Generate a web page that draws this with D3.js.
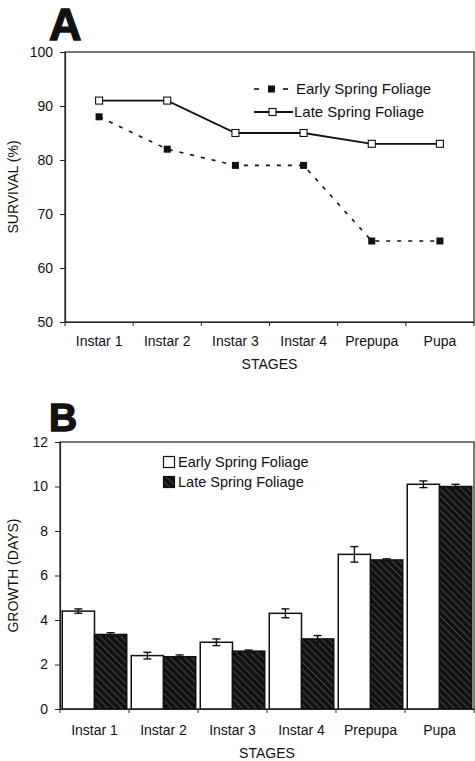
<!DOCTYPE html>
<html>
<head>
<meta charset="utf-8">
<script src="https://cdn.jsdelivr.net/npm/d3@7"></script>
<style>
  body { margin: 0; background: #fff; }
  text { font-family: "Liberation Sans", Arial, sans-serif; fill: #111; }
</style>
</head>
<body>
<script>
// data
const stages = ["Instar 1", "Instar 2", "Instar 3", "Instar 4", "Prepupa", "Pupa"];
const seriesNames = ["Early Spring Foliage", "Late Spring Foliage"];

// panel A: survival (%)
const survivalEarly = [88, 82, 79, 79, 65, 65];
const survivalLate = [91, 91, 85, 85, 83, 83];
const survivalTicks = [50, 60, 70, 80, 90, 100];

// panel B: growth (days) with error
const growthEarly = [4.4, 2.4, 3.0, 4.3, 6.95, 10.1];
const growthEarlyErr = [0.1, 0.15, 0.15, 0.2, 0.35, 0.15];
const growthLate = [3.35, 2.35, 2.6, 3.15, 6.7, 10.0];
const growthLateErr = [0.08, 0.08, 0.05, 0.15, 0.05, 0.1];
const growthTicks = [0, 2, 4, 6, 8, 10, 12];

const W = 475, H = 761;
const svg = d3.select("body").append("svg")
  .attr("width", W).attr("height", H);

// hatch for late foliage bars
const defs = svg.append("defs");
const hatch = defs.append("pattern")
  .attr("id", "hatch")
  .attr("patternUnits", "userSpaceOnUse")
  .attr("width", 5).attr("height", 5)
  .attr("patternTransform", "rotate(-45)");
hatch.append("rect").attr("width", 5).attr("height", 5).attr("fill", "#111");
hatch.append("line").attr("x1", 0).attr("y1", 0).attr("x2", 0).attr("y2", 5)
  .attr("stroke", "#a0a0a0").attr("stroke-width", 0.75);

// ---------- Panel A ----------
const a = { left: 65, right: 474, top: 52, bottom: 322 };

svg.append("text")
  .attr("x", 49).attr("y", 40)
  .attr("font-size", 45).attr("font-weight", "bold")
  .style("stroke", "#111").style("stroke-width", 1.4)
  .text("A");

const xA = d3.scaleBand().domain(stages).range([a.left, a.right]);
const yA = d3.scaleLinear().domain([50, 100]).range([a.bottom, a.top]);

// frame
svg.append("rect")
  .attr("x", a.left).attr("y", a.top)
  .attr("width", a.right - a.left).attr("height", a.bottom - a.top)
  .attr("fill", "none").attr("stroke", "#222").attr("stroke-width", 1.2);

const yAxisA = svg.append("g")
  .attr("transform", `translate(${a.left},0)`)
  .call(d3.axisLeft(yA).tickValues(survivalTicks).tickSize(5).tickPadding(7));

const xAxisA = svg.append("g")
  .attr("transform", `translate(0,${a.bottom})`)
  .call(d3.axisBottom(xA).tickSize(0).tickPadding(14));

// band boundary ticks
svg.append("g").selectAll("line")
  .data(stages.concat(["end"]))
  .join("line")
  .attr("x1", (d, i) => a.left + i * xA.bandwidth())
  .attr("x2", (d, i) => a.left + i * xA.bandwidth())
  .attr("y1", a.bottom).attr("y2", a.bottom + 4)
  .attr("stroke", "#222");

[yAxisA, xAxisA].forEach(g => {
  g.select(".domain").attr("stroke", "#222").attr("stroke-width", 1.2);
  g.selectAll(".tick line").attr("stroke", "#222");
  g.selectAll("text").attr("font-size", 14).attr("fill", "#111")
    .style("font-family", "'Liberation Sans', Arial, sans-serif");
});

svg.append("text")
  .attr("transform", `translate(18,${(a.top + a.bottom) / 2}) rotate(-90)`)
  .attr("text-anchor", "middle").attr("font-size", 14)
  .text("SURVIVAL (%)");

svg.append("text")
  .attr("x", (a.left + a.right) / 2).attr("y", 369)
  .attr("text-anchor", "middle").attr("font-size", 14)
  .text("STAGES");

const cx = d => xA(d) + xA.bandwidth() / 2;
const lineA = d3.line().x(d => cx(d.s)).y(d => yA(d.v));
const earlyPts = stages.map((s, i) => ({ s, v: survivalEarly[i] }));
const latePts = stages.map((s, i) => ({ s, v: survivalLate[i] }));

svg.append("path").datum(earlyPts)
  .attr("d", lineA).attr("fill", "none")
  .attr("stroke", "#111").attr("stroke-width", 1.6)
  .attr("stroke-dasharray", "4,7");

svg.append("path").datum(latePts)
  .attr("d", lineA).attr("fill", "none")
  .attr("stroke", "#111").attr("stroke-width", 1.8);

svg.append("g").selectAll("rect")
  .data(earlyPts).join("rect")
  .attr("x", d => cx(d.s) - 3.5).attr("y", d => yA(d.v) - 3.5)
  .attr("width", 7).attr("height", 7).attr("fill", "#111");

svg.append("g").selectAll("rect")
  .data(latePts).join("rect")
  .attr("x", d => cx(d.s) - 3.5).attr("y", d => yA(d.v) - 3.5)
  .attr("width", 7).attr("height", 7)
  .attr("fill", "#fff").attr("stroke", "#111").attr("stroke-width", 1.1);

// legend A
const legA = svg.append("g");
legA.append("line").attr("x1", 254).attr("x2", 259).attr("y1", 89).attr("y2", 89)
  .attr("stroke", "#111").attr("stroke-width", 1.6);
legA.append("rect").attr("x", 268).attr("y", 85.5).attr("width", 7).attr("height", 7).attr("fill", "#111");
legA.append("line").attr("x1", 283).attr("x2", 288).attr("y1", 89).attr("y2", 89)
  .attr("stroke", "#111").attr("stroke-width", 1.6);
legA.append("text").attr("x", 296).attr("y", 94).attr("font-size", 15).text(seriesNames[0]);

legA.append("line").attr("x1", 254).attr("x2", 293).attr("y1", 112).attr("y2", 112)
  .attr("stroke", "#111").attr("stroke-width", 1.8);
legA.append("rect").attr("x", 269).attr("y", 108.5).attr("width", 7).attr("height", 7)
  .attr("fill", "#fff").attr("stroke", "#111").attr("stroke-width", 1.1);
legA.append("text").attr("x", 294).attr("y", 117).attr("font-size", 15).text(seriesNames[1]);

// ---------- Panel B ----------
const b = { left: 60, right: 474, top: 442, bottom: 709 };

svg.append("text")
  .attr("x", 49).attr("y", 431)
  .attr("font-size", 39).attr("font-weight", "bold")
  .style("stroke", "#111").style("stroke-width", 1.4)
  .text("B");

const xB = d3.scaleBand().domain(stages).range([b.left, b.right]);
const xInner = d3.scaleBand().domain(seriesNames).range([0, xB.bandwidth()])
  .paddingInner(0).paddingOuter(0.07);
const yB = d3.scaleLinear().domain([0, 12]).range([b.bottom, b.top]);

svg.append("rect")
  .attr("x", b.left).attr("y", b.top)
  .attr("width", b.right - b.left).attr("height", b.bottom - b.top)
  .attr("fill", "none").attr("stroke", "#222").attr("stroke-width", 1.2);

const barData = [];
stages.forEach((s, i) => {
  barData.push({ s, k: seriesNames[0], v: growthEarly[i], e: growthEarlyErr[i] });
  barData.push({ s, k: seriesNames[1], v: growthLate[i], e: growthLateErr[i] });
});

svg.append("g").selectAll("rect")
  .data(barData).join("rect")
  .attr("x", d => xB(d.s) + xInner(d.k))
  .attr("y", d => yB(d.v))
  .attr("width", xInner.bandwidth())
  .attr("height", d => yB(0) - yB(d.v))
  .attr("fill", d => d.k === seriesNames[0] ? "#fff" : "url(#hatch)")
  .attr("stroke", "#111").attr("stroke-width", 1.5);

// error bars
const eb = svg.append("g").attr("stroke", "#111").attr("stroke-width", 1.4);
const bx = d => xB(d.s) + xInner(d.k) + xInner.bandwidth() / 2;
eb.selectAll(".v").data(barData).join("line").attr("class", "v")
  .attr("x1", bx).attr("x2", bx)
  .attr("y1", d => yB(d.v + d.e)).attr("y2", d => yB(d.v - d.e));
eb.selectAll(".t").data(barData).join("line").attr("class", "t")
  .attr("x1", d => bx(d) - 4).attr("x2", d => bx(d) + 4)
  .attr("y1", d => yB(d.v + d.e)).attr("y2", d => yB(d.v + d.e));
eb.selectAll(".b").data(barData).join("line").attr("class", "b")
  .attr("x1", d => bx(d) - 4).attr("x2", d => bx(d) + 4)
  .attr("y1", d => yB(d.v - d.e)).attr("y2", d => yB(d.v - d.e));

const yAxisB = svg.append("g")
  .attr("transform", `translate(${b.left},0)`)
  .call(d3.axisLeft(yB).tickValues(growthTicks).tickSize(5).tickPadding(7));

const xAxisB = svg.append("g")
  .attr("transform", `translate(0,${b.bottom})`)
  .call(d3.axisBottom(xB).tickSize(0).tickPadding(16));

svg.append("g").selectAll("line")
  .data(stages.concat(["end"]))
  .join("line")
  .attr("x1", (d, i) => b.left + i * xB.bandwidth())
  .attr("x2", (d, i) => b.left + i * xB.bandwidth())
  .attr("y1", b.bottom).attr("y2", b.bottom + 4)
  .attr("stroke", "#222");

[yAxisB, xAxisB].forEach(g => {
  g.select(".domain").attr("stroke", "#222").attr("stroke-width", 1.2);
  g.selectAll(".tick line").attr("stroke", "#222");
  g.selectAll("text").attr("font-size", 14).attr("fill", "#111")
    .style("font-family", "'Liberation Sans', Arial, sans-serif");
});

svg.append("text")
  .attr("transform", `translate(18,${(b.top + b.bottom) / 2}) rotate(-90)`)
  .attr("text-anchor", "middle").attr("font-size", 14)
  .text("GROWTH (DAYS)");

svg.append("text")
  .attr("x", (b.left + b.right) / 2).attr("y", 758)
  .attr("text-anchor", "middle").attr("font-size", 14)
  .text("STAGES");

// legend B
const legB = svg.append("g");
seriesNames.forEach((n, i) => {
  const y = 462 + i * 20;
  legB.append("rect").attr("x", 163.5).attr("y", y - 5.5).attr("width", 11).attr("height", 11)
    .attr("fill", i === 0 ? "#fff" : "url(#hatch)")
    .attr("stroke", "#111").attr("stroke-width", 1.2);
  legB.append("text").attr("x", 178).attr("y", y + 5).attr("font-size", 14.5).text(n);
});
</script>
</body>
</html>
